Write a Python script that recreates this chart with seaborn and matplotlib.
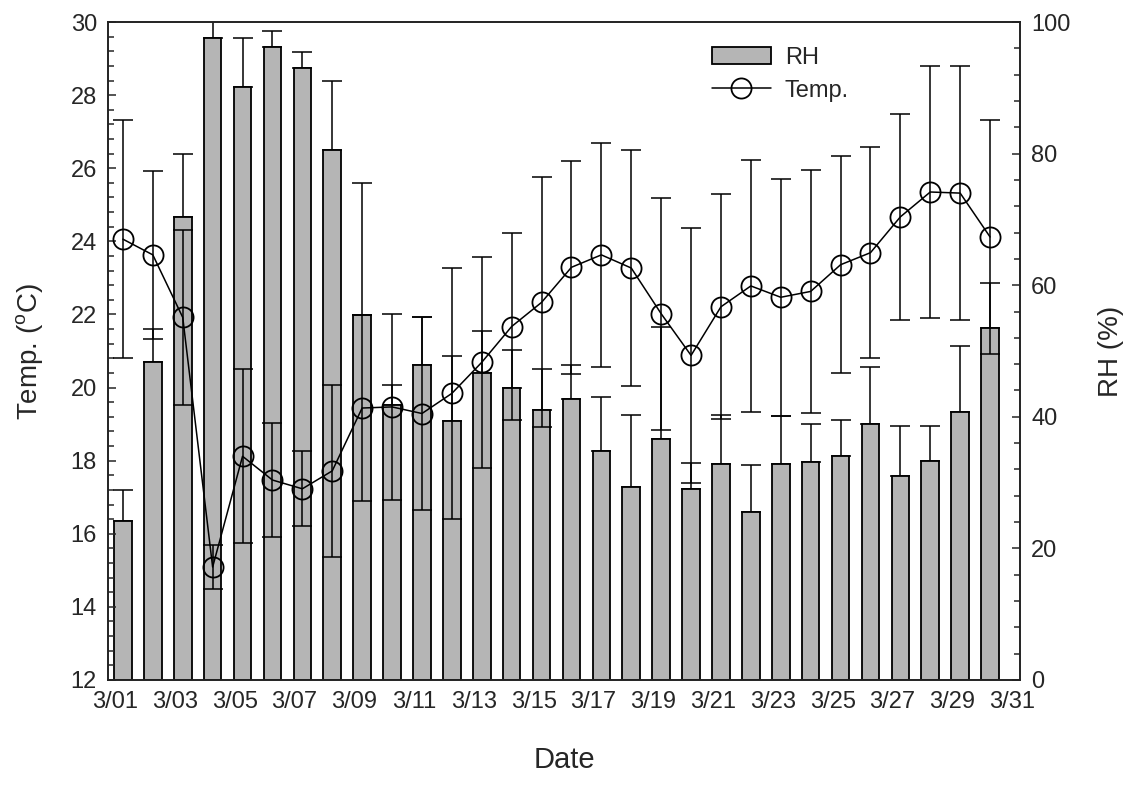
import numpy as np
import pandas as pd
import matplotlib
matplotlib.use("Agg")
import matplotlib.pyplot as plt
from matplotlib.ticker import MultipleLocator
import seaborn as sns

# Daily values (30 days)
dates = ['3/%02d' % d for d in range(1, 31)]
rh = [24.1, 48.4, 70.4, 97.6, 90.2, 96.2, 93.0, 80.6, 55.4, 41.8,
      47.8, 39.3, 46.7, 44.4, 41.0, 42.7, 34.8, 29.3, 36.6, 29.1,
      32.9, 25.5, 32.9, 33.2, 34.1, 38.9, 31.0, 33.3, 40.7, 53.5]
rh_err = [4.7, 4.9, 9.5, 4.0, 7.4, 2.5, 2.5, 10.4, 20.1, 3.1,
          7.4, 10.0, 6.4, 5.7, 6.3, 5.1, 8.2, 11.0, 17.0, 3.9,
          7.4, 7.2, 7.2, 5.7, 5.4, 8.6, 7.6, 5.3, 10.0, 6.9]
temp = [24.06, 23.63, 21.92, 15.09, 18.12, 17.47, 17.23, 17.72, 19.44, 19.47,
        19.29, 19.84, 20.69, 21.67, 22.33, 23.29, 23.63, 23.27, 22.02, 20.88,
        22.21, 22.78, 22.47, 22.63, 23.36, 23.69, 24.67, 25.35, 25.32, 24.12]
temp_err = [3.26, 2.30, 2.39, 0.60, 2.38, 1.56, 1.03, 2.35, 2.54, 2.55,
            2.64, 3.43, 2.88, 2.55, 3.42, 2.91, 3.06, 3.24, 3.17, 3.49,
            3.08, 3.45, 3.24, 3.33, 2.97, 2.88, 2.82, 3.45, 3.48, 3.19]
tick_labels = ['3/%02d' % d for d in range(1, 32, 2)]

df = pd.DataFrame({'idx': range(len(dates)), 'date': dates, 'rh': rh,
                   'rh_err': rh_err, 'temp': temp, 'temp_err': temp_err})

sns.set_style("ticks")
plt.rcParams['font.family'] = ['Liberation Sans', 'DejaVu Sans']
plt.rcParams['mathtext.default'] = 'regular'

fig = plt.figure(figsize=(11.39, 7.87), dpi=100)
ax_rh = fig.add_axes([0.0948, 0.136, 0.8007, 0.836])

# RH: only the upper error shows above each bar
ax_rh.errorbar(df['idx'], df['rh'], yerr=[np.zeros(len(df)), df['rh_err']],
               fmt='none', ecolor='black', elinewidth=1.1, capsize=7,
               capthick=1.1, zorder=1)
sns.barplot(data=df, x='idx', y='rh', ax=ax_rh, color='#b5b5b5',
            saturation=1, width=0.59, edgecolor='black', linewidth=1.3,
            errorbar=None, zorder=2)

ax_t = ax_rh.twinx()
ax_t.errorbar(df['idx'], df['temp'], yerr=df['temp_err'], fmt='none',
              ecolor='black', elinewidth=1.1, capsize=7, capthick=1.1,
              zorder=3)
sns.lineplot(data=df, x='idx', y='temp', ax=ax_t, color='black',
             linewidth=1.1, marker='o', markersize=14.5,
             markerfacecolor='none', markeredgecolor='black',
             markeredgewidth=1.3, zorder=4)

# axes layout
ax_rh.set_xlim(-0.5, 30.0)
ax_rh.set_ylim(0, 100)
ax_t.set_ylim(12, 30)

ax_rh.set_xticks(np.arange(0, 31, 2) - 0.26, tick_labels)
ax_rh.tick_params(axis='x', length=0, labelsize=17, pad=8)

ax_t.yaxis.tick_left()
ax_t.yaxis.set_label_position('left')
ax_rh.yaxis.tick_right()
ax_rh.yaxis.set_label_position('right')

ax_t.yaxis.set_major_locator(MultipleLocator(2))
ax_t.yaxis.set_minor_locator(MultipleLocator(0.4))
ax_rh.yaxis.set_major_locator(MultipleLocator(20))
ax_rh.yaxis.set_minor_locator(MultipleLocator(4))
for a in (ax_t, ax_rh):
    a.tick_params(axis='y', which='major', direction='in', length=6,
                  width=1.1, labelsize=17, pad=8)
    a.tick_params(axis='y', which='minor', direction='in', length=4,
                  width=1.1)
    for s in a.spines.values():
        s.set_visible(True)
        s.set_linewidth(1.2)
        s.set_color('#222222')

ax_t.set_ylabel('Temp. ($^{o}$C)', fontsize=20)
ax_rh.set_ylabel('RH (%)', fontsize=20)
ax_rh.set_xlabel('Date', fontsize=21)
ax_t.yaxis.set_label_coords(-0.069, 0.5)
ax_rh.yaxis.set_label_coords(1.086, 0.5)
ax_rh.xaxis.set_label_coords(0.5, -0.1)
ax_t.set_xlabel('')

bar_handle = ax_rh.patches[0]
line_handle = ax_t.lines[-1]
ax_t.legend([bar_handle, line_handle], ['RH', 'Temp.'], loc='upper left',
            bbox_to_anchor=(0.649, 0.98), frameon=False, fontsize=17,
            handlelength=2.5, handletextpad=0.6, labelspacing=0.45,
            borderpad=0)

fig.savefig('out.png', dpi=100)
